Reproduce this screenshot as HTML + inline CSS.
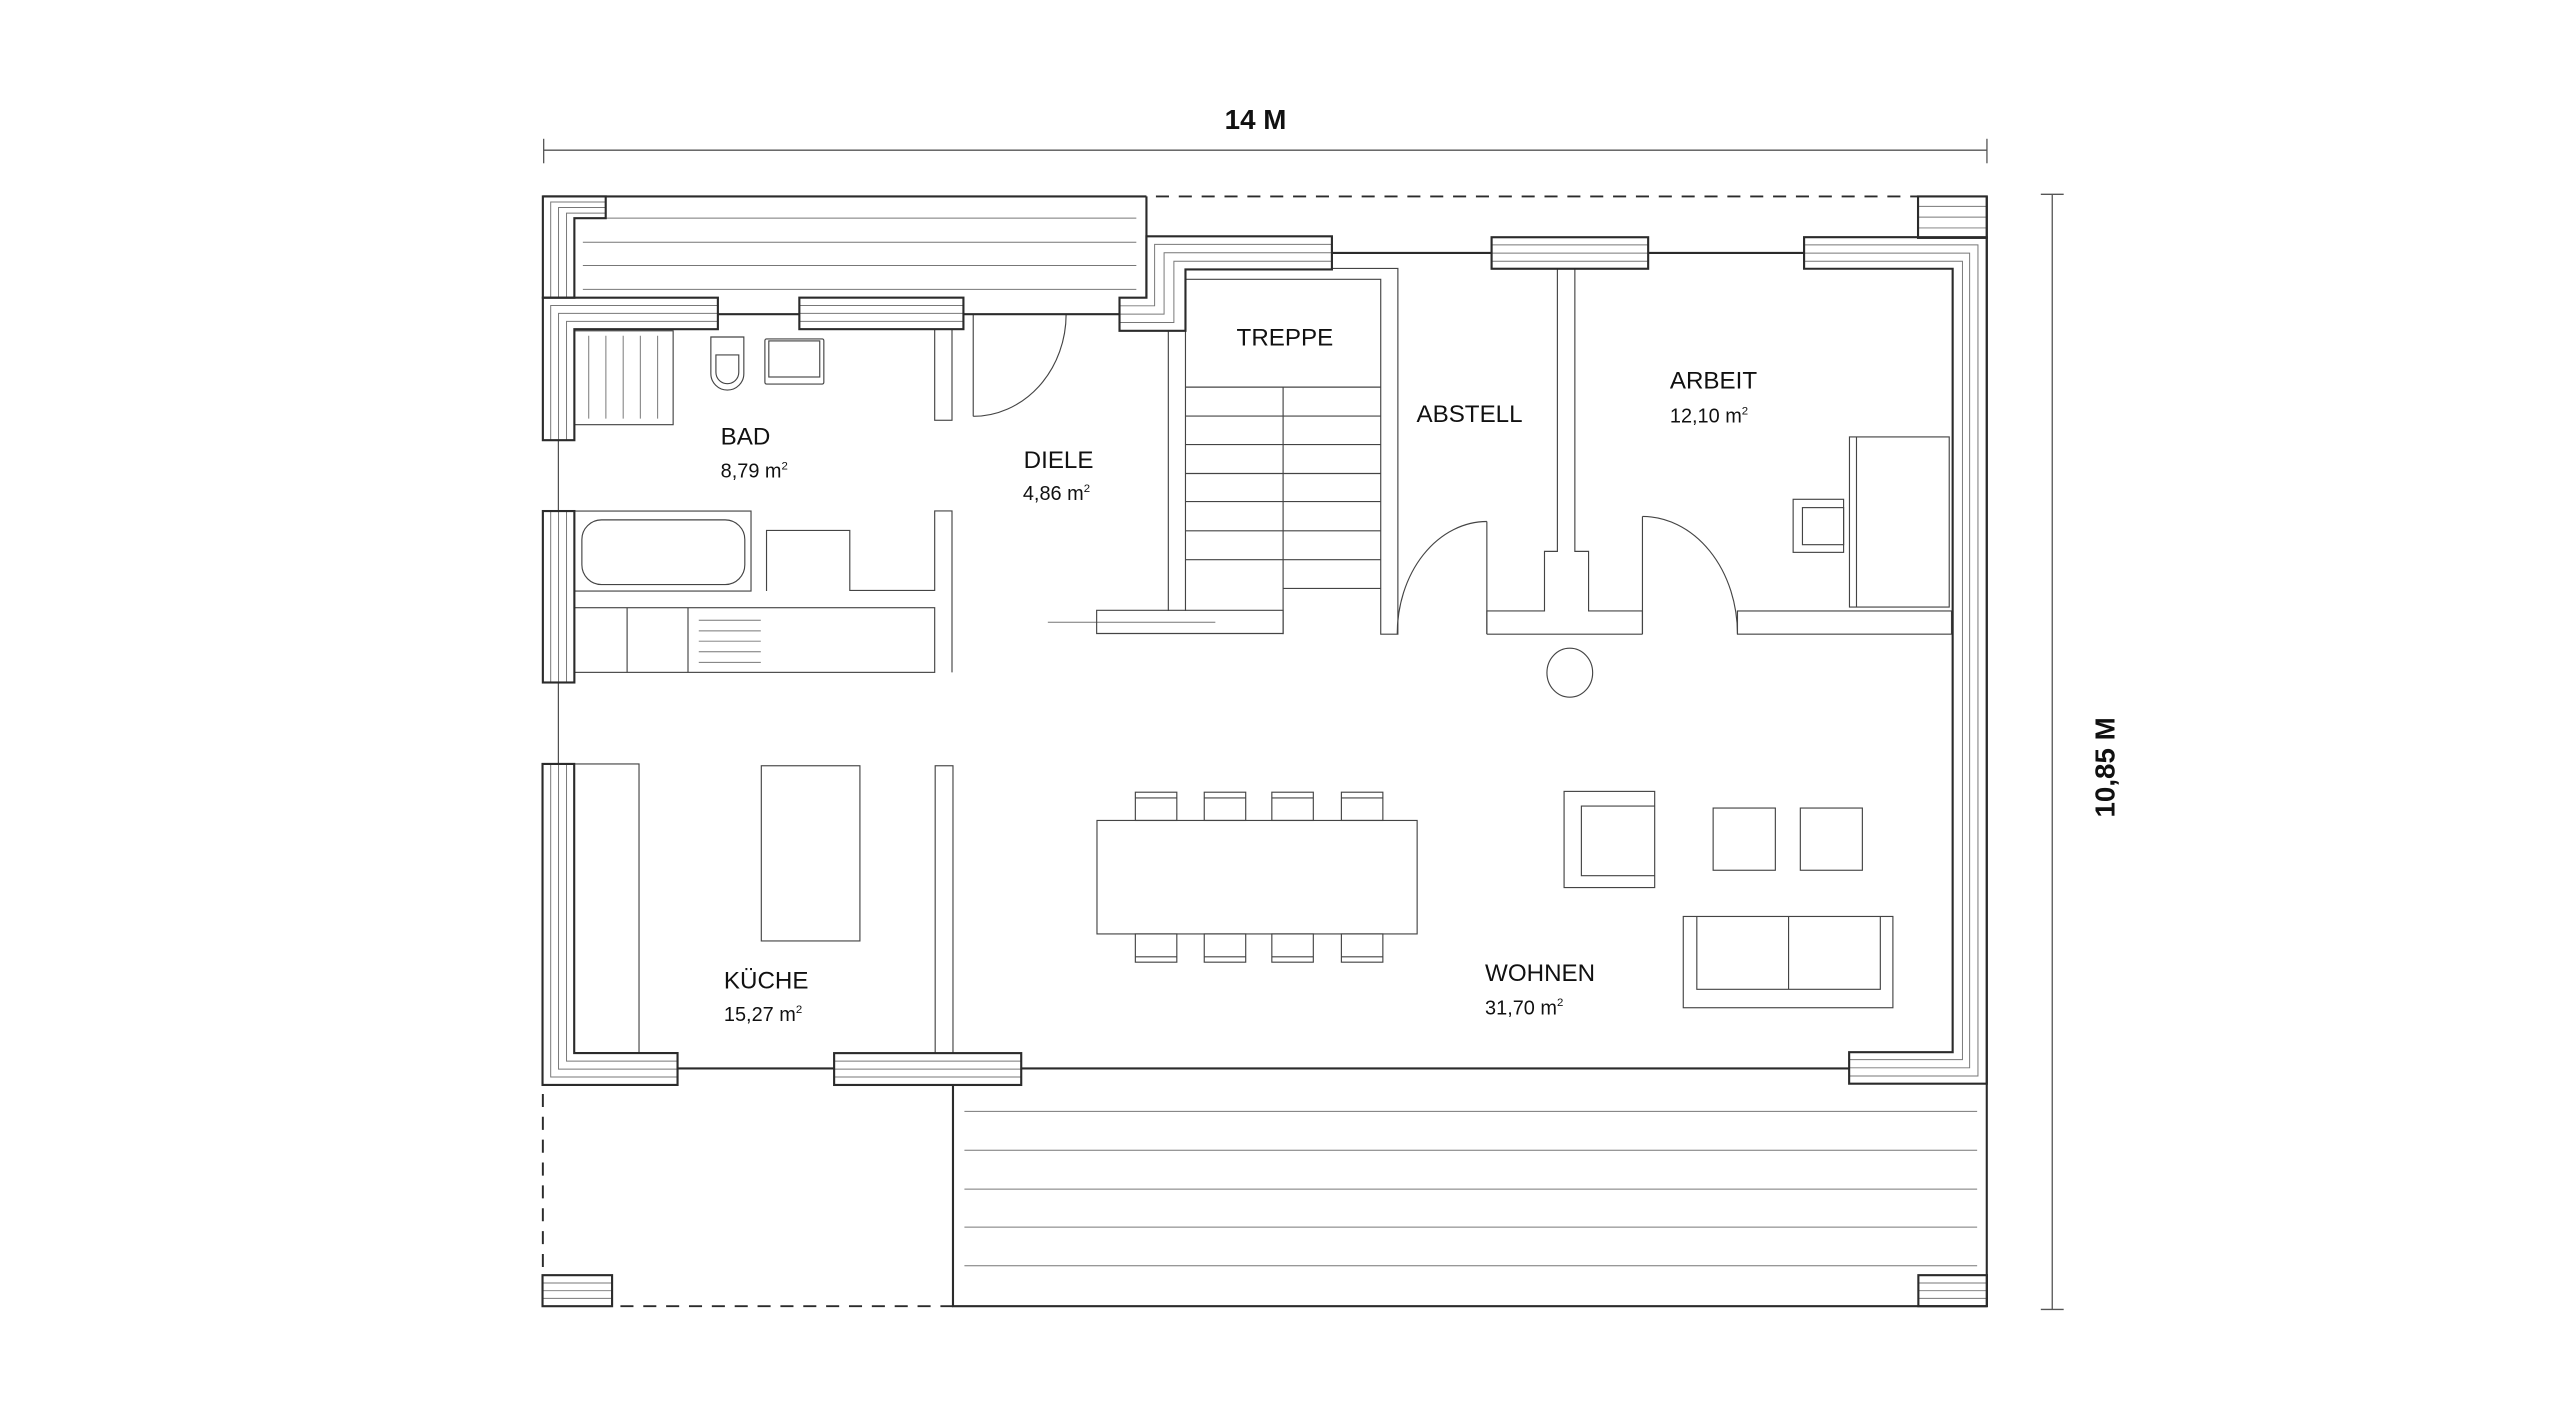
<!DOCTYPE html>
<html><head><meta charset="utf-8"><style>
html,body{margin:0;padding:0;background:#fff;}
svg{display:block;}
text{font-family:"Liberation Sans",sans-serif;fill:#111;}
</style></head><body>
<svg width="2560" height="1428" viewBox="0 0 1568 874.6" preserveAspectRatio="none" xmlns="http://www.w3.org/2000/svg">
<rect x="0" y="0" width="1568" height="874.6" fill="#fff"/>
<!-- dimensions -->
<g stroke="#555" stroke-width="0.8" fill="none">
<line x1="333" y1="92" x2="1217" y2="92"/><line x1="333" y1="85" x2="333" y2="100"/><line x1="1217" y1="85" x2="1217" y2="100"/>
<line x1="1257" y1="119" x2="1257" y2="802"/><line x1="1250" y1="119" x2="1264" y2="119"/><line x1="1250" y1="802" x2="1264" y2="802"/>
</g>
<text x="769" y="79" font-size="17" font-weight="bold" text-anchor="middle">14 M</text>
<text transform="translate(1295,470) rotate(-90)" font-size="17" font-weight="bold" text-anchor="middle">10,85 M</text>

<!-- thin inner lines -->
<g stroke="#777" stroke-width="0.6" fill="none">
<!-- top strip lines -->
<line x1="357" y1="133.6" x2="696" y2="133.6"/><line x1="357" y1="148.4" x2="696" y2="148.4"/><line x1="357" y1="162.6" x2="696" y2="162.6"/><line x1="357" y1="177.2" x2="696" y2="177.2"/>
<!-- top-left L -->
<path d="M337.3,182.3V123.7H371M342.1,182.3V127.1H371M347,182.3V130.5H371"/>
<!-- bad corner L -->
<path d="M337.3,269.6V187.1H439.7M342.1,269.6V191.9H439.7M347,269.6V196.8H439.7"/>
<!-- window bad -->
<path d="M489.6,187.1H590.1M489.6,191.9H590.1M489.6,196.8H590.1"/>
<!-- mid left wall -->
<path d="M337.3,313V418M342.1,313V418M347,313V418"/>
<!-- lower left L -->
<path d="M337.3,467.9V659.6H415M342.1,467.9V654.8H415M347,467.9V649.9H415"/>
<!-- kitchen window -->
<path d="M510.9,649.9H625.5M510.9,654.8H625.5M510.9,659.6H625.5"/>
<!-- stair corner -->
<path d="M685.7,187.3H707.2V149.7H815.8M685.7,192.4H713V154.8H815.8M685.7,197.5H719V160H815.8"/>
<!-- window top mid -->
<path d="M913.6,150H1009.5M913.6,155H1009.5M913.6,160H1009.5"/>
<!-- right wall -->
<path d="M1105,150H1211.5V659H1132.6M1105,155H1206.4V654H1132.6M1105,160H1202V649H1132.6"/>
<!-- top right block -->
<path d="M1174.8,126.4H1216.9M1174.8,133H1216.9M1174.8,139.6H1216.9"/>
<!-- bottom blocks -->
<path d="M1175,785.8H1217M1175,790.5H1217M1175,795.2H1217M332.3,785.8H375M332.3,790.5H375M332.3,795.2H375"/>
<!-- terrace lines -->
<path d="M590.7,680.7H1211M590.7,704.5H1211M590.7,728.3H1211M590.7,751.6H1211M590.7,775.2H1211"/>
<!-- shower -->
<path d="M360.6,205.6V256.4M371.1,205.6V256.4M381.7,205.6V256.4M392.2,205.6V256.4M402.8,205.6V256.4"/>
<!-- counter lines -->
<path d="M428,379.9H466M428,386.4H466M428,392.7H466M428,399.2H466M428,405.7H466"/>
<line x1="641.8" y1="381.1" x2="744.4" y2="381.1"/>
</g>

<!-- main thin-dark outlines (furniture, interior) -->
<g stroke="#444" stroke-width="0.7" fill="none">
<rect x="351.8" y="202.6" width="60.5" height="57.5"/>
<path d="M435.4,206.4H455.6V228.8A10,10 0 0 1 435.4,228.8Z"/>
<path d="M438.5,217.4H452.5V228A7,7 0 0 1 438.5,228Z"/>
<rect x="468.5" y="207.6" width="36.1" height="27.6" rx="1"/>
<rect x="470.9" y="208.8" width="31.2" height="22.1"/>
<rect x="572.5" y="201.6" width="10.6" height="55.8"/>
<line x1="596.1" y1="192.4" x2="596.1" y2="255"/>
<path d="M596.1,255A57,62.6 0 0 0 653,192.4"/>
<rect x="351.8" y="313" width="108.2" height="49"/>
<rect x="356.4" y="318.4" width="99.8" height="39.6" rx="12"/>
<path d="M469.5,362V324.9H520.5V361.6H572.5V312.9H583.1V411.8"/>
<rect x="351.8" y="372.2" width="220.7" height="39.6"/>
<line x1="384.1" y1="372.2" x2="384.1" y2="411.8"/><line x1="421.4" y1="372.2" x2="421.4" y2="411.8"/>
<!-- stair -->
<path d="M715.6,202.6V374.2M726.1,202.6V374.2"/>
<path d="M815.8,164.4H856.2V388.4H845.7V171.1H726.1"/>
<path d="M726.1,237.1H845.7M726.1,254.8H845.7M726.1,272.3H845.7M726.1,290H845.7M726.1,307.2H845.7M726.1,325.1H845.7M726.1,342.8H845.7M785.9,360.4H845.7M785.9,237.1V388.4"/>
<path d="M671.7,373.8H785.9V388H671.7Z"/>
<!-- abstell / arbeit -->
<path d="M910.7,388.4V374.2H946V337.7H953.9V164.6M964.6,164.6V337.7H973V374.2H1006V388.4M910.7,388.4H1006"/>
<line x1="910.7" y1="319.4" x2="910.7" y2="388.4"/>
<path d="M910.7,319.4A55,69 0 0 0 855.8,388.4"/>
<line x1="1006" y1="316.3" x2="1006" y2="388.4"/>
<path d="M1006,316.3A58.2,72 0 0 1 1064.2,388.4"/>
<rect x="1064.2" y="374.2" width="131.1" height="14.2"/>
<rect x="1132.8" y="267.6" width="61.1" height="104.2"/>
<line x1="1137.1" y1="267.6" x2="1137.1" y2="371.8"/>
<rect x="1098.3" y="305.8" width="30.9" height="32.5"/>
<rect x="1104" y="310.9" width="25.2" height="22.7"/>
<ellipse cx="961.5" cy="412" rx="14" ry="15"/>
<!-- kitchen -->
<rect x="351.7" y="467.9" width="39.7" height="177.1"/>
<rect x="466.3" y="469" width="60.4" height="107.3"/>
<rect x="572.8" y="469" width="10.9" height="176"/>
<!-- dining -->
<rect x="671.9" y="502.5" width="196.1" height="69.5"/>
<g>
<rect x="695.4" y="485.2" width="25.4" height="17.3"/><line x1="695.4" y1="488.7" x2="720.8" y2="488.7"/>
<rect x="737.6" y="485.2" width="25.4" height="17.3"/><line x1="737.6" y1="488.7" x2="763" y2="488.7"/>
<rect x="779" y="485.2" width="25.4" height="17.3"/><line x1="779" y1="488.7" x2="804.4" y2="488.7"/>
<rect x="821.6" y="485.2" width="25.4" height="17.3"/><line x1="821.6" y1="488.7" x2="847" y2="488.7"/>
<rect x="695.4" y="572" width="25.4" height="17.3"/><line x1="695.4" y1="586" x2="720.8" y2="586"/>
<rect x="737.6" y="572" width="25.4" height="17.3"/><line x1="737.6" y1="586" x2="763" y2="586"/>
<rect x="779" y="572" width="25.4" height="17.3"/><line x1="779" y1="586" x2="804.4" y2="586"/>
<rect x="821.6" y="572" width="25.4" height="17.3"/><line x1="821.6" y1="586" x2="847" y2="586"/>
</g>
<!-- living -->
<rect x="958" y="484.7" width="55.5" height="58.9"/>
<path d="M1013.5,493.7H968.6V536.3H1013.5"/>
<rect x="1049.3" y="494.9" width="38.1" height="38.1"/>
<rect x="1102.7" y="494.9" width="38" height="38.1"/>
<rect x="1031" y="561.3" width="128.4" height="55.9"/>
<path d="M1039.3,561.3V605.9H1151.7V561.3M1095.5,561.3V605.9"/>
<!-- thin joins on left -->
<line x1="342" y1="269.6" x2="342" y2="313"/>
<line x1="342" y1="418" x2="342" y2="467.9"/>
</g>

<!-- dark walls -->
<g stroke="#2b2b2b" stroke-width="1.3" fill="none">
<line x1="332.5" y1="120.3" x2="702.2" y2="120.3"/>
<line x1="702.2" y1="120.3" x2="702.2" y2="182.3"/>
<path d="M332.5,120.3H371V133.6H351.8V182.3H332.5Z"/>
<path d="M332.5,182.3H439.7V201.6H351.8V269.6H332.5Z"/>
<rect x="489.6" y="182.3" width="100.5" height="19.3"/>
<line x1="439.7" y1="192.4" x2="489.6" y2="192.4"/>
<line x1="590.1" y1="192.4" x2="685.7" y2="192.4"/>
<path d="M685.7,182.3H702.2V144.7H815.8V165H726.1V202.6H685.7Z"/>
<line x1="815.8" y1="154.9" x2="913.6" y2="154.9"/>
<line x1="1009.5" y1="154.9" x2="1105" y2="154.9"/>
<rect x="913.6" y="145.3" width="95.9" height="19.3"/>
<path d="M1105,145.3H1216.9V663.7H1132.6V644.4H1196V164.6H1105Z"/>
<rect x="1174.8" y="120.3" width="42.1" height="25.4"/>
<line x1="1216.9" y1="120.3" x2="1216.9" y2="800"/>
<rect x="332.5" y="313" width="19.3" height="105"/>
<path d="M332.3,467.9H351.7V645H415V664.5H332.3Z"/>
<rect x="510.9" y="645" width="114.6" height="19.5"/>
<line x1="415" y1="654.4" x2="510.9" y2="654.4"/>
<line x1="625.5" y1="654.4" x2="1132.6" y2="654.4"/>
<path d="M583.7,664.5V800H1217"/>
<rect x="1175" y="781" width="42" height="19"/>
<rect x="332.3" y="781" width="42.6" height="19"/>
</g>
<g stroke="#2b2b2b" stroke-width="1.2" fill="none" stroke-dasharray="8,6">
<line x1="708" y1="120.3" x2="1174.8" y2="120.3"/>
<line x1="332.5" y1="670" x2="332.5" y2="781"/>
<line x1="380" y1="800" x2="583.7" y2="800"/>
</g>

<!-- labels -->
<g font-size="14.8">
<text x="441.4" y="272.3">BAD</text>
<text x="627" y="286.5">DIELE</text>
<text x="787" y="211.7" text-anchor="middle">TREPPE</text>
<text x="867.6" y="258.5">ABSTELL</text>
<text x="1022.8" y="238.1">ARBEIT</text>
<text x="443.4" y="605.3">KÜCHE</text>
<text x="909.6" y="600.7">WOHNEN</text>
</g>
<g font-size="12.2">
<text x="441.4" y="292.6">8,79 m<tspan font-size="7" dy="-5">2</tspan></text>
<text x="626.5" y="306.2">4,86 m<tspan font-size="7" dy="-5">2</tspan></text>
<text x="1022.8" y="258.9">12,10 m<tspan font-size="7" dy="-5">2</tspan></text>
<text x="443.4" y="625.4">15,27 m<tspan font-size="7" dy="-5">2</tspan></text>
<text x="909.6" y="621.3">31,70 m<tspan font-size="7" dy="-5">2</tspan></text>
</g>
</svg>
</body></html>
